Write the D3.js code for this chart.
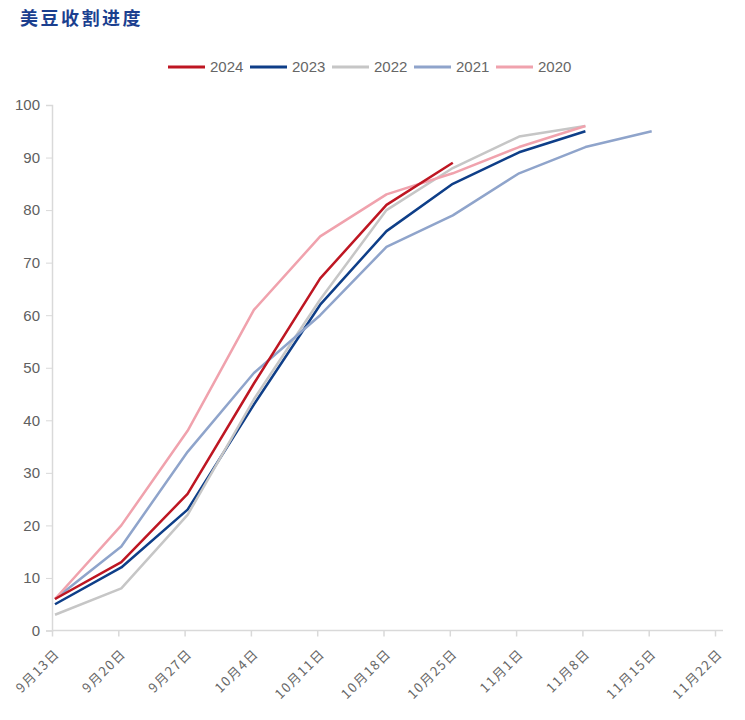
<!DOCTYPE html>
<html>
<head>
<meta charset="utf-8">
<script src="https://cdn.jsdelivr.net/npm/d3@7.9.0/dist/d3.min.js"></script>
<style>
  body { margin: 0; background: #fff; }
  svg { display: block; font-family: "Liberation Sans", Arial, sans-serif; }
</style>
</head>
<body>
<svg id="chart" width="745" height="720"></svg>
<script>
const dates = ['9月13日', '9月20日', '9月27日', '10月4日', '10月11日', '10月18日',
  '10月25日', '11月1日', '11月8日', '11月15日', '11月22日'];
const yTicks = [0, 10, 20, 30, 40, 50, 60, 70, 80, 90, 100];

const y2024 = [6, 13, 26, 47, 67, 81, 89];
const y2023 = [5, 12, 23, 43, 62, 76, 85, 91, 95];
const y2022 = [3, 8, 22, 44, 63, 80, 88, 94, 96];
const y2021 = [6, 16, 34, 49, 60, 73, 79, 87, 92, 95];
const y2020 = [6, 20, 38, 61, 75, 83, 87, 92, 96];

const seriesNames = ['2024', '2023', '2022', '2021', '2020'];
const seriesColors = ['#be1622', '#0e3e88', '#c6c6c6', '#8fa4cb', '#f0a2ad'];
const seriesValues = [y2024, y2023, y2022, y2021, y2020];

const svg = d3.select('#chart');

let x = d3.scalePoint().domain(dates).range([52, 715]);
let y = d3.scaleLinear().domain([0, 100]).range([630.5, 105]);
const shift = 3;

// title
svg.append('text')
  .attr('x', 20).attr('y', 25)
  .attr('fill', '#1b3f8f')
  .attr('font-size', 18)
  .attr('font-weight', 'bold')
  .attr('letter-spacing', 2.5)
  .attr('font-family', '"Noto Sans CJK SC", sans-serif')
  .text('美豆收割进度');

// y axis
let yAxis = svg.append('g')
  .attr('transform', 'translate(52,0)')
  .call(d3.axisLeft(y).tickValues(yTicks).tickSize(6).tickPadding(6));
yAxis.select('.domain').attr('stroke', '#d9d9d9').attr('stroke-width', 1.5);
yAxis.selectAll('.tick line').attr('stroke', '#d9d9d9');
yAxis.selectAll('.tick text').attr('fill', '#606060').attr('font-size', 15)
  .attr('font-family', '"Liberation Sans", Arial, sans-serif');

// x axis
let xAxis = svg.append('g')
  .attr('transform', 'translate(0,630.5)')
  .call(d3.axisBottom(x).tickSize(6).tickSizeOuter(0));
xAxis.select('.domain').attr('d', 'M52,0H723').attr('stroke', '#d9d9d9').attr('stroke-width', 1.5);
xAxis.selectAll('.tick line').attr('stroke', '#d9d9d9').attr('stroke-width', 1.5);
xAxis.selectAll('.tick text')
  .attr('fill', '#666')
  .attr('font-size', 13)
  .attr('letter-spacing', 1.5)
  .attr('font-family', '"Noto Sans CJK SC", sans-serif')
  .attr('text-anchor', 'end')
  .attr('y', 0).attr('dy', 0)
  .attr('transform', 'translate(8,24) rotate(-45)');

// lines
let line = d3.line()
  .x((d, i) => x(dates[i]) + shift)
  .y((d) => y(d));

seriesValues.forEach((vals, idx) => {
  svg.append('path')
    .datum(vals)
    .attr('d', line)
    .attr('fill', 'none')
    .attr('stroke', seriesColors[idx])
    .attr('stroke-width', 2.5)
    .attr('stroke-linejoin', 'round');
});

// keep 2024 on top
svg.selectAll('path').filter(function () { return this.getAttribute('stroke') === seriesColors[0]; }).raise();

// legend
let legend = svg.append('g').attr('transform', 'translate(168,67)');
seriesNames.forEach((name, idx) => {
  let g = legend.append('g').attr('transform', `translate(${idx * 82},0)`);
  g.append('line')
    .attr('x1', 0).attr('x2', 37).attr('y1', 0).attr('y2', 0)
    .attr('stroke', seriesColors[idx]).attr('stroke-width', 3);
  g.append('text')
    .attr('x', 42).attr('y', 0).attr('dy', '0.35em')
    .attr('fill', '#666').attr('font-size', 15)
    .text(name);
});
</script>
</body>
</html>
